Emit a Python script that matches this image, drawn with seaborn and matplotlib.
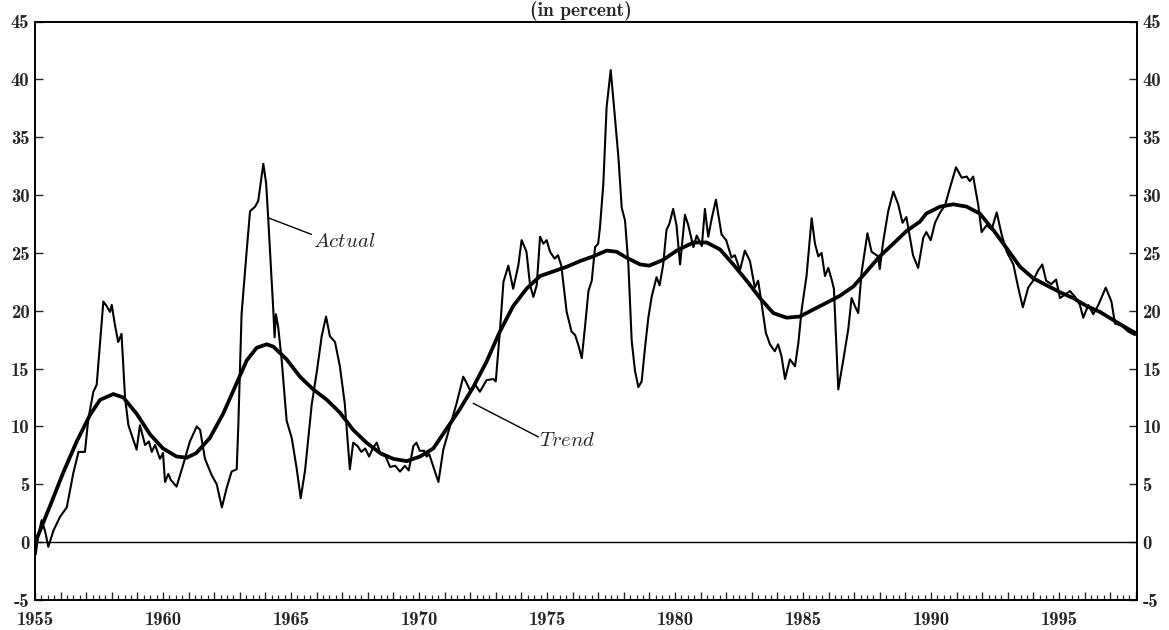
import pandas as pd
import matplotlib
matplotlib.use("Agg")
import matplotlib.pyplot as plt
import seaborn as sns
from matplotlib.ticker import MultipleLocator, FuncFormatter

# Actual series (year, percent)
actual_years = [
    1955.00, 1955.10, 1955.26, 1955.40, 1955.52, 1955.72, 1955.98, 1956.24, 1956.50, 1956.70,
    1956.95, 1957.08, 1957.28, 1957.41, 1957.67, 1957.80, 1957.93, 1958.00, 1958.12, 1958.25,
    1958.38, 1958.52, 1958.65, 1958.97, 1959.10, 1959.30, 1959.45, 1959.56, 1959.69, 1959.88,
    1960.00, 1960.08, 1960.21, 1960.30, 1960.53, 1960.79, 1961.05, 1961.32, 1961.45, 1961.64,
    1961.90, 1962.10, 1962.30, 1962.49, 1962.68, 1962.88, 1962.94, 1963.07, 1963.27, 1963.40,
    1963.60, 1963.72, 1963.92, 1964.03, 1964.11, 1964.31, 1964.36, 1964.41, 1964.50, 1964.63,
    1964.83, 1965.03, 1965.22, 1965.38, 1965.55, 1965.81, 1966.00, 1966.20, 1966.37, 1966.52,
    1966.72, 1966.91, 1967.10, 1967.30, 1967.43, 1967.60, 1967.75, 1967.90, 1968.05, 1968.22,
    1968.35, 1968.50, 1968.70, 1968.87, 1969.07, 1969.26, 1969.45, 1969.60, 1969.78, 1969.90,
    1970.03, 1970.20, 1970.30, 1970.40, 1970.76, 1970.95, 1971.21, 1971.47, 1971.73, 1971.85,
    1972.00, 1972.20, 1972.38, 1972.64, 1972.90, 1973.00, 1973.16, 1973.30, 1973.49, 1973.68,
    1973.88, 1974.01, 1974.20, 1974.34, 1974.47, 1974.60, 1974.73, 1974.86, 1974.99, 1975.12,
    1975.30, 1975.43, 1975.56, 1975.77, 1975.96, 1976.10, 1976.23, 1976.36, 1976.49, 1976.62,
    1976.75, 1976.88, 1977.00, 1977.07, 1977.20, 1977.33, 1977.49, 1977.62, 1977.79, 1977.92,
    1978.05, 1978.18, 1978.31, 1978.44, 1978.57, 1978.70, 1978.83, 1978.96, 1979.09, 1979.28,
    1979.40, 1979.54, 1979.67, 1979.78, 1979.93, 1980.06, 1980.20, 1980.39, 1980.52, 1980.72,
    1980.85, 1981.05, 1981.17, 1981.30, 1981.43, 1981.60, 1981.82, 1982.00, 1982.21, 1982.34,
    1982.54, 1982.73, 1982.93, 1983.12, 1983.25, 1983.38, 1983.55, 1983.71, 1983.90, 1984.03,
    1984.16, 1984.30, 1984.49, 1984.69, 1984.82, 1984.95, 1985.14, 1985.34, 1985.47, 1985.60,
    1985.73, 1985.86, 1985.99, 1986.12, 1986.21, 1986.38, 1986.58, 1986.77, 1986.90, 1987.03,
    1987.16, 1987.29, 1987.52, 1987.68, 1987.94, 1988.00, 1988.13, 1988.33, 1988.53, 1988.72,
    1988.89, 1989.04, 1989.30, 1989.50, 1989.70, 1989.82, 1989.99, 1990.16, 1990.36, 1990.55,
    1990.74, 1990.98, 1991.20, 1991.40, 1991.52, 1991.65, 1991.85, 1991.98, 1992.18, 1992.37,
    1992.57, 1992.76, 1992.96, 1993.22, 1993.41, 1993.59, 1993.80, 1993.99, 1994.19, 1994.35,
    1994.50, 1994.70, 1994.89, 1995.04, 1995.24, 1995.43, 1995.63, 1995.82, 1995.95, 1996.15,
    1996.34, 1996.54, 1996.83, 1997.05, 1997.19, 1997.45, 1997.71, 1997.97,
]
actual_values = [
    -1.2, 0.3, 1.9, 0.9, -0.4, 1.0, 2.2, 3.0, 6.0, 7.8,
    7.8, 10.6, 13.0, 13.6, 20.8, 20.4, 19.9, 20.5, 18.8, 17.3,
    18.0, 12.4, 10.1, 8.0, 10.1, 8.4, 8.7, 7.8, 8.4, 7.2,
    7.7, 5.2, 5.9, 5.4, 4.8, 6.7, 8.7, 10.0, 9.7, 7.2,
    5.8, 5.0, 3.0, 4.7, 6.1, 6.3, 9.9, 19.7, 25.2, 28.6,
    29.0, 29.5, 32.7, 31.0, 28.0, 20.0, 17.7, 19.7, 18.6, 15.9,
    10.5, 9.0, 6.4, 3.8, 6.2, 11.9, 14.6, 17.8, 19.5, 17.8,
    17.3, 15.2, 12.0, 6.3, 8.6, 8.3, 7.8, 8.1, 7.4, 8.2,
    8.6, 7.6, 7.4, 6.5, 6.6, 6.1, 6.6, 6.2, 8.3, 8.6,
    7.9, 7.9, 7.4, 7.6, 5.2, 8.0, 10.0, 12.0, 14.3, 13.8,
    13.1, 13.6, 13.0, 14.0, 14.1, 13.9, 18.2, 22.5, 23.9, 21.9,
    23.9, 26.1, 25.1, 22.2, 21.2, 22.2, 26.4, 25.8, 26.1, 25.1,
    24.5, 24.8, 23.9, 19.9, 18.2, 17.9, 17.0, 15.9, 18.7, 21.7,
    22.6, 25.5, 25.8, 27.2, 30.9, 37.6, 40.8, 37.6, 33.3, 28.9,
    27.8, 24.0, 17.4, 14.8, 13.4, 13.9, 16.8, 19.4, 21.2, 22.9,
    22.2, 24.0, 27.0, 27.5, 28.8, 27.4, 24.0, 28.3, 27.4, 25.5,
    26.5, 25.6, 28.8, 26.4, 27.9, 29.6, 26.6, 26.1, 24.6, 24.8,
    23.5, 25.2, 24.3, 22.0, 22.6, 20.7, 18.1, 17.1, 16.5, 17.1,
    16.1, 14.1, 15.8, 15.2, 17.2, 20.1, 23.0, 28.0, 25.8, 24.7,
    25.0, 23.0, 23.7, 22.7, 21.9, 13.2, 15.8, 18.4, 21.1, 20.4,
    19.8, 23.3, 26.7, 25.1, 24.7, 23.6, 25.9, 28.6, 30.3, 29.2,
    27.6, 28.1, 24.8, 23.7, 26.3, 26.8, 26.1, 27.6, 28.5, 29.1,
    30.6, 32.4, 31.5, 31.6, 31.2, 31.6, 29.1, 26.8, 27.4, 27.0,
    28.5, 26.6, 25.1, 24.0, 22.0, 20.3, 22.0, 22.6, 23.5, 24.0,
    22.6, 22.3, 22.7, 21.1, 21.4, 21.7, 21.2, 20.5, 19.4, 20.5,
    19.7, 20.5, 22.0, 20.8, 18.9, 18.7, 18.2, 17.9,
]

# Trend series
trend_years = [
    1955.00, 1955.07, 1955.60, 1956.10, 1956.63, 1957.15, 1957.54, 1958.06, 1958.45, 1958.97,
    1959.50, 1960.00, 1960.53, 1960.93, 1961.30, 1961.83, 1962.35, 1962.87, 1963.27, 1963.66,
    1964.05, 1964.31, 1964.83, 1965.35, 1965.87, 1966.40, 1966.91, 1967.43, 1967.95, 1968.48,
    1969.00, 1969.52, 1970.04, 1970.56, 1971.08, 1971.60, 1972.12, 1972.64, 1973.16, 1973.68,
    1974.20, 1974.73, 1975.25, 1975.77, 1976.30, 1976.81, 1977.33, 1977.72, 1978.10, 1978.64,
    1979.00, 1979.54, 1980.07, 1980.72, 1981.24, 1981.76, 1982.28, 1982.80, 1983.32, 1983.84,
    1984.36, 1984.88, 1985.40, 1985.93, 1986.45, 1986.97, 1987.49, 1988.00, 1988.53, 1989.05,
    1989.57, 1989.82, 1990.36, 1990.87, 1991.39, 1991.91, 1992.43, 1992.96, 1993.48, 1994.00,
    1994.52, 1995.04, 1995.56, 1996.09, 1996.60, 1997.12, 1997.65, 1997.97,
]
trend_values = [
    -1.0, 0.3, 3.2, 6.0, 8.7, 11.0, 12.3, 12.8, 12.5, 11.1,
    9.3, 8.1, 7.4, 7.3, 7.7, 9.0, 11.1, 13.7, 15.7, 16.8,
    17.1, 16.9, 15.8, 14.3, 13.2, 12.3, 11.2, 9.7, 8.6, 7.7,
    7.2, 7.0, 7.4, 8.1, 9.8, 11.5, 13.4, 15.6, 18.2, 20.4,
    21.9, 23.0, 23.4, 23.8, 24.3, 24.7, 25.2, 25.1, 24.6, 24.0,
    23.9, 24.4, 25.2, 25.9, 25.9, 25.3, 24.0, 22.6, 21.1, 19.8,
    19.4, 19.5, 20.1, 20.7, 21.3, 22.1, 23.4, 24.7, 25.8, 26.9,
    27.7, 28.4, 29.0, 29.2, 29.0, 28.4, 27.0, 25.4, 23.8, 22.8,
    22.2, 21.6, 21.1, 20.4, 19.9, 19.2, 18.5, 18.1,
]

actual = pd.DataFrame({"year": actual_years, "value": actual_values})
trend = pd.DataFrame({"year": trend_years, "value": trend_values})

sns.set_style("ticks")
plt.rcParams["font.family"] = ["cmb10", "DejaVu Serif"]
plt.rcParams["mathtext.fontset"] = "cm"
plt.rcParams["axes.unicode_minus"] = False
plt.rcParams["axes.formatter.use_mathtext"] = False

fig = plt.figure(figsize=(11.69, 6.30), dpi=100)
ax = fig.add_axes([35 / 1169, 1 - 600 / 630, (1137 - 35) / 1169, (600 - 21.5) / 630])

sns.lineplot(data=actual, x="year", y="value", ax=ax, color="black",
             linewidth=1.5, sort=False, estimator=None)
sns.lineplot(data=trend, x="year", y="value", ax=ax, color="black",
             linewidth=2.7, sort=False, estimator=None)
ax.axhline(0, color="black", linewidth=1.0)

ax.set_xlim(1955, 1998.05)
ax.set_ylim(-5, 45)
ax.set_xlabel("")
ax.set_ylabel("")

ax.xaxis.set_major_locator(MultipleLocator(1))
ax.xaxis.set_minor_locator(MultipleLocator(0.25))
ax.xaxis.set_major_formatter(
    FuncFormatter(lambda v, p: str(int(round(v))) if int(round(v)) % 5 == 0 else ""))
ax.yaxis.set_major_locator(MultipleLocator(5))
ax.yaxis.set_major_formatter(FuncFormatter(lambda v, p: str(int(round(v)))))

ax.tick_params(axis="x", which="major", direction="in", length=6, width=1.0,
               labelsize=13.5, pad=8, top=False)
ax.tick_params(axis="x", which="minor", direction="in", length=3.5, width=0.9, top=False)
ax.tick_params(axis="y", which="major", direction="in", length=6, width=1.0,
               labelsize=13.5, pad=4, left=True, right=True, labelleft=True, labelright=True)

for s in ax.spines.values():
    s.set_linewidth(1.4)
    s.set_color("black")

# labels with leader lines
ax.plot([1964.15, 1965.8], [28.0, 26.6], color="black", linewidth=1.0)
ax.text(1965.85, 26.0, r"$\mathit{Actual}$", fontsize=15, va="center", ha="left")
ax.plot([1972.12, 1974.66], [12.0, 9.1], color="black", linewidth=1.0)
ax.text(1974.7, 8.8, r"$\mathit{Trend}$", fontsize=15, va="center", ha="left")

fig.text(0.497, 1 - 1 / 630, "(in percent)", fontsize=14, ha="center", va="top")

fig.savefig("out.png", dpi=100)
